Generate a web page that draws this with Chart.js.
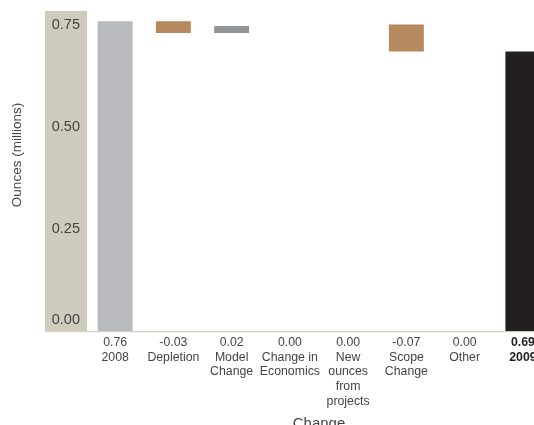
<!DOCTYPE html>
<html>
<head>
<meta charset="utf-8">
<script src="https://cdn.jsdelivr.net/npm/chart.js@4/dist/chart.umd.min.js"></script>
<style>
  html, body { margin: 0; padding: 0; background: #fff; overflow: hidden; }
  #wrap { position: relative; width: 552px; height: 433px; }
</style>
</head>
<body>
<div id="wrap"><canvas id="chart"></canvas></div>
<script>
// categories, shown under each bar (one entry per line)
const categories = [
  ['2008'],
  ['Depletion'],
  ['Model', 'Change'],
  ['Change in', 'Economics'],
  ['New', 'ounces', 'from', 'projects'],
  ['Scope', 'Change'],
  ['Other'],
  ['2009']
];
// change values printed above each category name
const changeLabels = ['0.76', '-0.03', '0.02', '0.00', '0.00', '-0.07', '0.00', '0.69'];
// floating bar ends (millions of ounces)
const barLow  = [0,    0.731, 0.731, 0.748, 0.748, 0.686, 0.686, 0];
const barHigh = [0.76, 0.76,  0.748, 0.748, 0.748, 0.752, 0.686, 0.686];
const barColors = ['#b9babe', '#b68a5e', '#939497', '#939497', '#939497', '#b68a5e', '#939497', '#231f20'];
const yTicks = [0, 0.25, 0.5, 0.75];

const FONT = '"Liberation Sans", Arial, sans-serif';
const BAND = '#cfccbd';

// beige band behind the y labels, the bottom line and the y title
const decor = {
  id: 'decor',
  beforeDraw(chart) {
    const { ctx, chartArea } = chart;
    ctx.save();
    ctx.fillStyle = BAND;
    ctx.fillRect(chartArea.left - 41, chartArea.top, 42, chartArea.bottom - chartArea.top);
    ctx.strokeStyle = '#cdc9ba';
    ctx.lineWidth = 1;
    ctx.beginPath();
    ctx.moveTo(chartArea.left - 41, chartArea.bottom + 0.5);
    ctx.lineTo(chart.width, chartArea.bottom + 0.5);
    ctx.stroke();

    ctx.translate(17, 155);
    ctx.rotate(-Math.PI / 2);
    ctx.fillStyle = '#444';
    ctx.font = '13.5px ' + FONT;
    ctx.textAlign = 'center';
    ctx.textBaseline = 'middle';
    ctx.fillText('Ounces (millions)', 0, 0);
    ctx.restore();
  }
};

new Chart(document.getElementById('chart'), {
  type: 'bar',
  data: {
    labels: categories,
    datasets: [{
      data: barLow.map((lo, i) => [lo, barHigh[i]]),
      backgroundColor: barColors,
      borderWidth: 0,
      barPercentage: 0.6,
      categoryPercentage: 1
    }]
  },
  options: {
    responsive: true,
    maintainAspectRatio: false,
    animation: false,
    layout: { padding: { top: 11, left: 0, right: 0, bottom: 0 } },
    plugins: { legend: { display: false }, tooltip: { enabled: false } },
    scales: {
      x: {
        grid: { display: false, drawTicks: false },
        border: { display: false },
        ticks: {
          autoSkip: false,
          maxRotation: 0,
          padding: 4,
          color: ctx => ctx.index === 7 ? '#231f20' : '#444',
          font: ctx => ({ family: FONT, size: 12.3, lineHeight: 1.2, weight: ctx.index === 7 ? 'bold' : 'normal' }),
          callback: (v, i) => [changeLabels[i], ...categories[i]]
        },
        title: {
          display: true,
          text: 'Change',
          color: '#444',
          font: { family: FONT, size: 15, lineHeight: 1.2 },
          padding: { top: 2, bottom: 0 }
        }
      },
      y: {
        min: 0,
        max: 0.785,
        afterFit: s => { s.width = 86; s.paddingTop = 0; s.paddingBottom = 0; },
        afterBuildTicks: s => { s.ticks = yTicks.map(v => ({ value: v })); },
        grid: { display: false, drawTicks: false },
        border: { display: false },
        ticks: {
          padding: 6,
          color: '#444',
          font: ctx => ({ family: FONT, size: 14.5, lineHeight: ctx.tick && ctx.tick.value === 0 ? 1.52 : 1.2 }),
          callback: v => v === 0 ? ['0.00', ''] : v.toFixed(2)
        }
      }
    }
  },
  plugins: [decor]
});
</script>
</body>
</html>
